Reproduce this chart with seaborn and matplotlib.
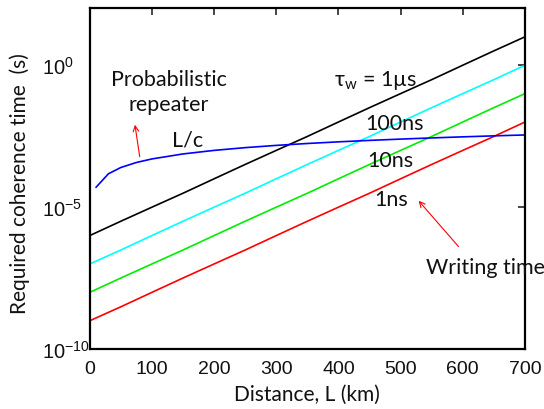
import numpy as np
import pandas as pd
import matplotlib
matplotlib.use("Agg")
import matplotlib.pyplot as plt
import seaborn as sns

# ---- data ----
dist = [0, 50, 100, 150, 200, 250, 300, 350, 400, 450, 500, 550, 600, 650, 700]
t_1us = [1.0e-6, 3.2e-6, 1.0e-5, 3.1e-5, 1.0e-4, 3.2e-4, 1.0e-3, 3.1e-3,
         1.0e-2, 3.2e-2, 1.0e-1, 3.1e-1, 1.0, 3.2, 10.0]
t_100ns = [1.0e-7, 3.1e-7, 1.0e-6, 3.2e-6, 1.0e-5, 3.1e-5, 1.0e-4, 3.2e-4,
           1.0e-3, 3.1e-3, 1.0e-2, 3.2e-2, 1.0e-1, 3.1e-1, 1.0]
t_10ns = [1.0e-8, 3.2e-8, 1.0e-7, 3.1e-7, 1.0e-6, 3.2e-6, 1.0e-5, 3.1e-5,
          1.0e-4, 3.2e-4, 1.0e-3, 3.1e-3, 1.0e-2, 3.2e-2, 1.0e-1]
t_1ns = [1.0e-9, 3.1e-9, 1.0e-8, 3.2e-8, 1.0e-7, 3.1e-7, 1.0e-6, 3.2e-6,
         1.0e-5, 3.1e-5, 1.0e-4, 3.2e-4, 1.0e-3, 3.1e-3, 1.0e-2]
dist_lc = [10, 30, 50, 75, 100, 150, 200, 250, 300, 350, 400, 450, 500,
           550, 600, 650, 700]
t_lc = [5.0e-5, 1.5e-4, 2.5e-4, 3.75e-4, 5.0e-4, 7.5e-4, 1.0e-3, 1.25e-3,
        1.5e-3, 1.75e-3, 2.0e-3, 2.25e-3, 2.5e-3, 2.75e-3, 3.0e-3, 3.25e-3,
        3.5e-3]

series_names = ["1us", "100ns", "10ns", "1ns", "L/c"]
series_colors = ["#000000", "#00FFFF", "#00EE00", "#FF0000", "#0000FF"]
x_ticks = [0, 100, 200, 300, 400, 500, 600, 700]
y_ticks = [1e-10, 1e-5, 1e0]
y_tick_labels = [r"$\mathregular{10^{-10}}$", r"$\mathregular{10^{-5}}$",
                 r"$\mathregular{10^{0}}$"]

frames = []
for name, xs, ys in [("1us", dist, t_1us), ("100ns", dist, t_100ns),
                     ("10ns", dist, t_10ns), ("1ns", dist, t_1ns),
                     ("L/c", dist_lc, t_lc)]:
    frames.append(pd.DataFrame({"L": xs, "t": ys, "series": name}))
df = pd.concat(frames, ignore_index=True)

sns.set_style("white")
plt.rcParams["font.family"] = ["Liberation Sans", "DejaVu Sans"]
plt.rcParams["mathtext.fontset"] = "custom"
plt.rcParams["mathtext.rm"] = "Liberation Sans"
plt.rcParams["mathtext.it"] = "Liberation Sans:italic"
plt.rcParams["mathtext.default"] = "regular"

fig = plt.figure(figsize=(5.44, 4.10), dpi=100)
ax = fig.add_axes([0.165, 0.146, 0.80, 0.831])

sns.lineplot(data=df, x="L", y="t", hue="series", hue_order=series_names,
             palette=dict(zip(series_names, series_colors)), legend=False,
             linewidth=1.2, ax=ax, sort=False, estimator=None)

ax.set_yscale("log")
ax.set_xlim(0, 700)
ax.set_ylim(1e-10, 1e2)
ax.set_xticks(x_ticks)
ax.set_yticks(y_ticks)
ax.set_yticklabels(y_tick_labels, fontsize=14.5, family="Liberation Sans",
                   ha="left", color="#111111")
ax.minorticks_off()
ax.yaxis.set_minor_locator(matplotlib.ticker.NullLocator())
ax.tick_params(direction="in", length=5, width=1.2, top=True, right=True,
               pad=5, labelcolor="#111111")
ax.tick_params(axis="x", labelsize=14, pad=7.5)
ax.tick_params(axis="y", pad=34.5)
for t in ax.get_xticklabels():
    t.set_fontfamily("Liberation Sans")
for s in ax.spines.values():
    s.set_linewidth(1.6)
    s.set_color("black")
    s.set_visible(True)

lab = dict(family=["Lato", "DejaVu Sans"], fontsize=15, color="#111111")
ax.set_xlabel("Distance, L (km)", labelpad=5, **lab)
ax.set_ylabel("Required coherence time  (s)", **lab)
ax.yaxis.set_label_coords(-0.137, 0.49)

tx = dict(family=["Lato", "DejaVu Sans"], fontsize=15.5, color="#111111")
ax.text(127, 10**-0.47, "Probabilistic", ha="center", va="center", **tx)
ax.text(127, 10**-1.38, "repeater", ha="center", va="center", **tx)
ax.text(158, 10**-2.6, "L/c", ha="center", va="center", **tx)
ax.text(393, 10**-0.5, r"τ$_\mathregular{w}$ = 1µs", ha="left", va="center", **tx)
ax.text(491, 10**-2.03, "100ns", ha="center", va="center", **tx)
ax.text(483, 10**-3.35, "10ns", ha="center", va="center", **tx)
ax.text(485, 10**-4.72, "1ns", ha="center", va="center", **tx)
ax.text(637, 10**-7.1, "Writing time", ha="center", va="center", **tx)

arrow = dict(arrowstyle="->", color="red", lw=0.8, mutation_scale=10)
ax.annotate("", xy=(72, 10**-2.0), xytext=(81, 10**-3.32), arrowprops=arrow)
ax.annotate("", xy=(526, 10**-4.7), xytext=(596, 10**-6.46), arrowprops=arrow)

fig.savefig("out.png", dpi=100)
